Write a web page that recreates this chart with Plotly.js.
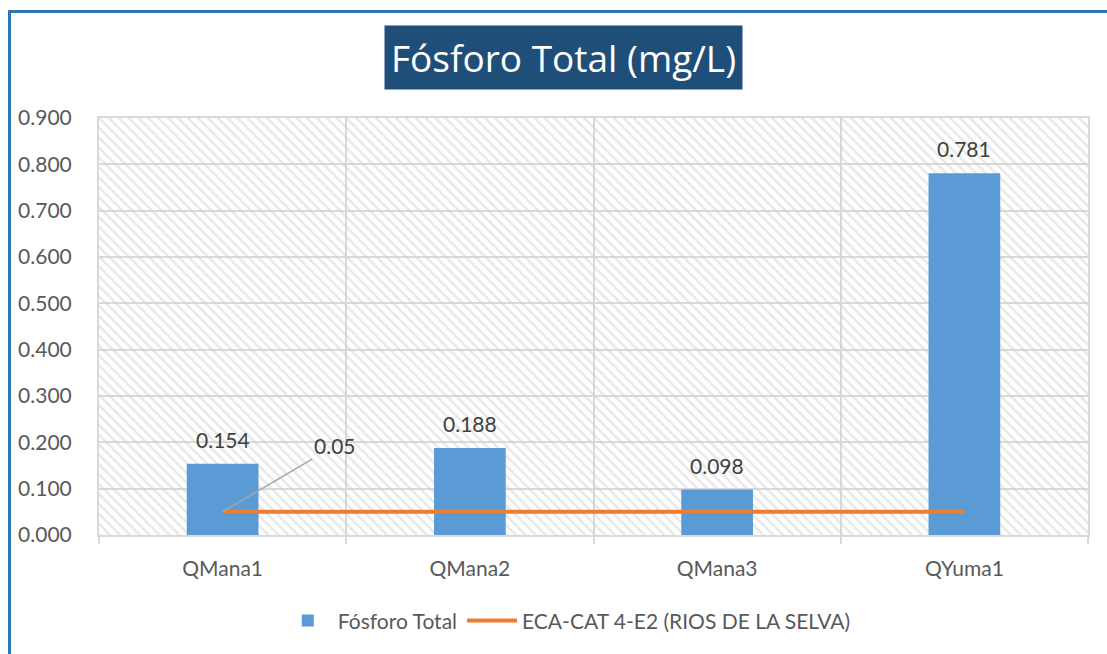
<!DOCTYPE html>
<html>
<head>
<meta charset="utf-8">
<script src="https://cdn.plot.ly/plotly-3.0.1.min.js"></script>
<style>
  body { margin: 0; background: #fff; }
  #chart { position: absolute; left: 0; top: 0; width: 1107px; height: 654px; }
  #frame {
    position: absolute; left: 8px; top: 10px; width: 1099px; height: 644px;
    border-left: 3px solid #2E75B6; border-top: 3px solid #2E75B6;
    box-sizing: border-box; pointer-events: none;
  }
</style>
</head>
<body>
<div id="chart"></div>
<div id="frame"></div>
<script>
const stations = ['QMana1', 'QMana2', 'QMana3', 'QYuma1'];
const fosforo = [0.154, 0.188, 0.098, 0.781];
const eca = [0.05, 0.05, 0.05, 0.05];
const yTicks = [0, 0.1, 0.2, 0.3, 0.4, 0.5, 0.6, 0.7, 0.8, 0.9];
const yMax = 0.9;

const textFont = 'Lato, "Open Sans", sans-serif';

// hatched plot background, one full-width bar per category
const hatchTrace = {
    x: stations,
    y: stations.map(() => yMax),
    type: 'bar',
    width: 1,
    marker: {
        color: 'rgba(0,0,0,0)',
        line: { width: 0 },
        pattern: { shape: '\\', fgcolor: '#D0D0D0', size: 7, solidity: 0.35, fillmode: 'overlay' }
    },
    showlegend: false,
    hoverinfo: 'skip',
};

const barTrace = {
    x: stations,
    y: fosforo,
    name: 'Fósforo Total',
    type: 'bar',
    width: 0.29,
    marker: { color: '#5B9BD5' },
};

const lineTrace = {
    x: stations,
    y: eca,
    name: 'ECA-CAT 4-E2 (RIOS DE LA SELVA)',
    type: 'scatter',
    mode: 'lines',
    line: { color: '#ED7D31', width: 4 },
};

const valueLabels = stations.map((s, i) => ({
    x: s, y: fosforo[i], xref: 'x', yref: 'y',
    text: fosforo[i].toFixed(3),
    showarrow: false, yanchor: 'bottom', yshift: 10,
    font: { family: textFont, size: 21, color: '#404040' },
}));

const layout = {
    width: 1107,
    height: 654,
    margin: { l: 99, r: 19, t: 118, b: 116 },
    paper_bgcolor: '#fff',
    plot_bgcolor: '#fff',
    barmode: 'overlay',
    font: { family: textFont, color: '#595959' },
    xaxis: {
        type: 'category',
        tickson: 'boundaries',
        ticks: 'outside',
        ticklen: 7,
        tickcolor: '#D9D9D9',
        tickwidth: 2,
        showgrid: true,
        gridcolor: '#D9D9D9',
        gridwidth: 2,
        showline: true,
        linecolor: '#D9D9D9',
        linewidth: 2,
        mirror: true,
        ticklabelstandoff: 14,
        tickfont: { size: 21, color: '#595959' },
        fixedrange: true,
    },
    yaxis: {
        range: [0, yMax],
        tickvals: yTicks,
        tickformat: '.3f',
        showgrid: true,
        gridcolor: '#D9D9D9',
        gridwidth: 2,
        zeroline: false,
        showline: true,
        linecolor: '#D9D9D9',
        linewidth: 2,
        mirror: true,
        ticks: '',
        ticklabelstandoff: 21,
        tickfont: { size: 21, color: '#595959' },
        fixedrange: true,
    },
    legend: {
        orientation: 'h',
        x: 0.473, xanchor: 'center',
        y: -0.206, yanchor: 'middle',
        font: { size: 21, color: '#595959' },
        itemwidth: 50,
        entrywidth: 0,
        traceorder: 'normal',
    },
    annotations: [
        {
            text: 'Fósforo Total (mg/L)',
            xref: 'paper', yref: 'paper',
            x: 0.4697, y: 1.145,
            xanchor: 'center', yanchor: 'middle',
            showarrow: false,
            bgcolor: '#1F4E79',
            borderpad: 6,
            font: { family: '"Open Sans", sans-serif', size: 37, color: '#ffffff' },
        },
        {
            text: eca[0].toString(),
            x: stations[0], y: eca[0], xref: 'x', yref: 'y',
            showarrow: true, arrowhead: 0, arrowwidth: 1.5, arrowcolor: '#A6A6A6',
            ax: 112, ay: -66,
            font: { family: textFont, size: 21, color: '#404040' },
        },
        ...valueLabels,
    ],
};

Plotly.newPlot('chart', [hatchTrace, barTrace, lineTrace], layout, { displayModeBar: false, staticPlot: true });
</script>
</body>
</html>
